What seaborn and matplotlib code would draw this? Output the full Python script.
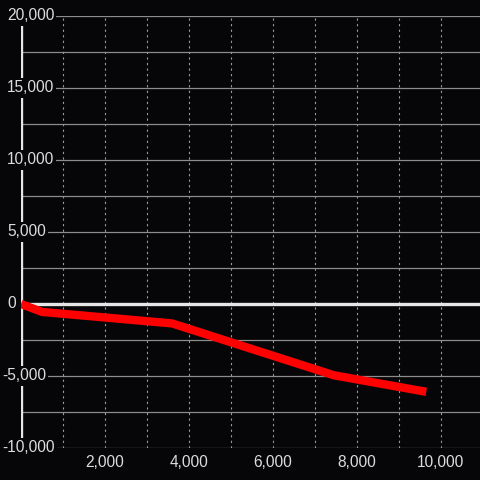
import matplotlib
matplotlib.use("Agg")
import matplotlib.pyplot as plt
import matplotlib.transforms as mtransforms
import seaborn as sns
import pandas as pd

# data
x_vals = [0, 500, 3600, 7450, 9650]
y_vals = [0, -550, -1350, -4950, -6100]

y_tick_vals = [-10000, -5000, 0, 5000, 10000, 15000, 20000]
y_tick_labels = ["-10,000", "-5,000", "0", "5,000", "10,000", "15,000", "20,000"]
x_tick_vals = [2000, 4000, 6000, 8000, 10000]
x_tick_labels = ["2,000", "4,000", "6,000", "8,000", "10,000"]

bg = "#060608"
txt = "#dcdcdc"

sns.set_theme(style="dark")
plt.rcParams["font.family"] = ["Liberation Sans", "DejaVu Sans"]

df = pd.DataFrame({"x": x_vals, "y": y_vals})

fig = plt.figure(figsize=(4.8, 4.8), dpi=100, facecolor=bg)
ax = fig.add_axes([21 / 480, 32 / 480, 459 / 480, 432 / 480])
ax.set_facecolor(bg)
for s in ax.spines.values():
    s.set_visible(False)

ax.set_xlim(0, 10930)
ax.set_ylim(-10000, 20000)

# grid
ax.set_yticks(range(-10000, 20001, 2500))
ax.set_yticklabels([])
ax.set_xticks(x_tick_vals)
ax.set_xticklabels(x_tick_labels)
ax.set_xticks(range(1000, 10001, 1000), minor=True)
ax.tick_params(axis="both", length=0, which="both")
ax.tick_params(axis="x", colors=txt, labelsize=11.2, pad=5)
ax.grid(axis="y", color="#8c8c8c", linewidth=0.9, linestyle="-")
ax.grid(axis="x", which="both", color="#9a9a9a", linewidth=0.8, linestyle=(0, (2, 3)))
ax.set_axisbelow(True)

ax.axhline(0, color="#e6e6e6", linewidth=2.4, zorder=1.2)
ax.axvline(0, color="#e6e6e6", linewidth=2.4, zorder=1.2)

sns.lineplot(data=df, x="x", y="y", ax=ax, color="#ff0000", linewidth=6,
             zorder=3, solid_joinstyle="round", solid_capstyle="butt")
ax.set_xlabel("")
ax.set_ylabel("")

# y labels sitting over the axis line
base = ax.get_yaxis_transform()
for v, lab in zip(y_tick_vals, y_tick_labels):
    dx = -14 if not lab.startswith("-") else -19
    tr = base + mtransforms.ScaledTranslation(dx / 100, 0, fig.dpi_scale_trans)
    ax.text(0, v, lab, transform=tr, ha="left", va="center", color=txt,
            fontsize=11.2, zorder=4, clip_on=False,
            bbox=dict(facecolor=bg, edgecolor="none", pad=1.5))

fig.savefig("out.png", dpi=100, facecolor=bg)
